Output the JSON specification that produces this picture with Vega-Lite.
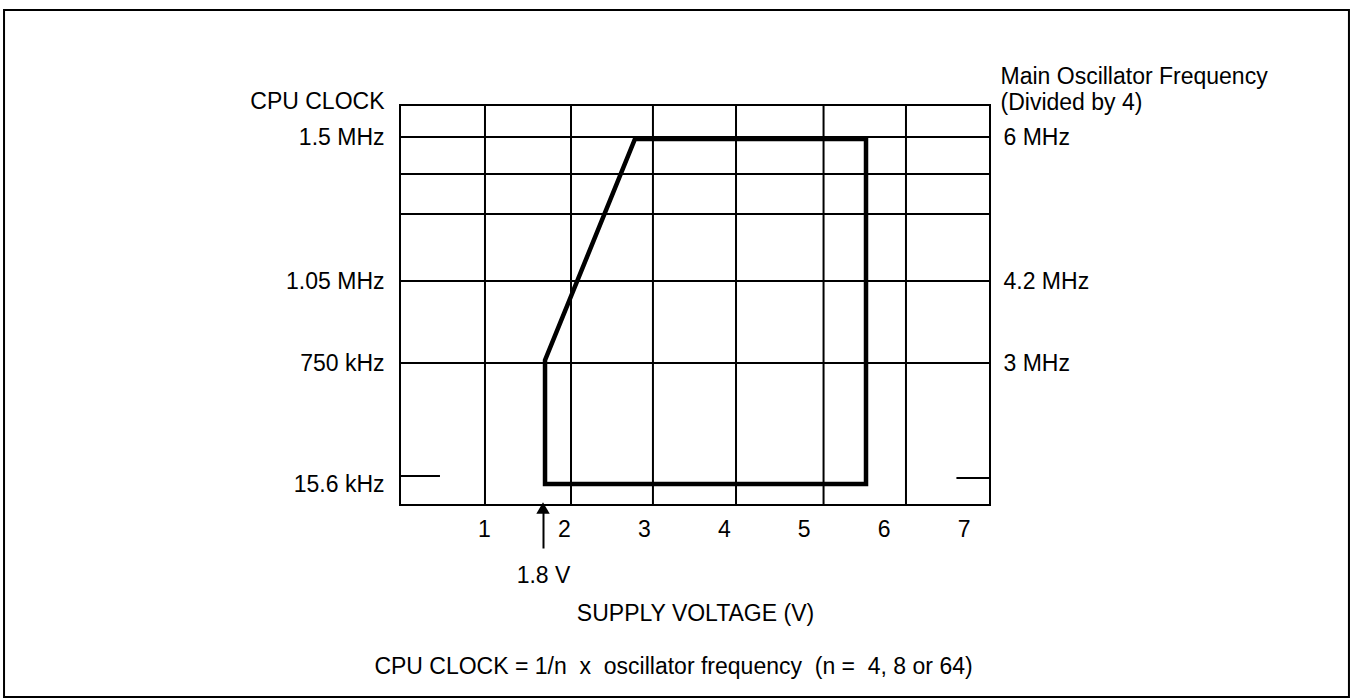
{
  "$schema": "https://vega.github.io/schema/vega-lite/v6.json",
  "autosize": {"type": "none"},
  "width": 590,
  "height": 400,
  "padding": {"left": 400, "top": 105, "right": 363, "bottom": 195},
  "background": "white",
  "config": {
    "view": {"stroke": "black", "strokeWidth": 2},
    "axis": {
      "labelFont": "Liberation Sans",
      "labelFontSize": 23,
      "labelColor": "black",
      "titleFont": "Liberation Sans",
      "titleFontSize": 23,
      "titleFontWeight": "normal",
      "titleColor": "black"
    }
  },
  "datasets": {
    "vgrid": [{"v": 1.013}, {"v": 2.089}, {"v": 3.114}, {"v": 4.153}, {"v": 5.248}, {"v": 6.279}],
    "hgrid": [{"f": 1.5}, {"f": 1.384}, {"f": 1.259}, {"f": 1.05}, {"f": 0.75}],
    "region": [
      {"order": 1, "v": 1.764, "f": 0.0156},
      {"order": 2, "v": 5.779, "f": 0.0156},
      {"order": 3, "v": 5.779, "f": 1.494},
      {"order": 4, "v": 2.889, "f": 1.494},
      {"order": 5, "v": 1.764, "f": 0.76},
      {"order": 6, "v": 1.764, "f": 0.0156}
    ],
    "stubs": [{"v": -0.05, "v2": 0.45, "f": 0.064}, {"v": 6.91, "v2": 7.33, "f": 0.052}],
    "arrow": [{"v": 1.739, "f": 0}],
    "frame": [{"v": -5.003, "v2": 11.82, "f": -0.1426, "f2": 1.8969}]
  },
  "resolve": {"axis": {"x": "independent", "y": "independent"}},
  "layer": [
    {
      "data": {"name": "vgrid"},
      "mark": {"type": "rule", "color": "black", "strokeWidth": 2},
      "encoding": {
        "x": {
          "field": "v", "type": "quantitative",
          "scale": {"domain": [-0.05, 7.33], "nice": false, "zero": false},
          "axis": {
            "orient": "bottom", "values": [1, 2, 3, 4, 5, 6, 7],
            "ticks": false, "domain": false, "grid": false,
            "labelPadding": 24, "labelBaseline": "middle", "labelFlush": false, "labelOverlap": false,
            "title": "SUPPLY VOLTAGE (V)", "titleX": 295, "titleY": 108, "titleBaseline": "middle", "titleAlign": "center"
          }
        }
      }
    },
    {
      "data": {"name": "hgrid"},
      "mark": {"type": "rule", "color": "black", "strokeWidth": 2},
      "encoding": {
        "y": {
          "field": "f", "type": "quantitative",
          "scale": {"domain": [0, 0.0156, 0.75, 1.05, 1.5, 1.6], "range": [400, 379, 258, 176, 32, 0], "nice": false, "zero": false},
          "axis": {
            "orient": "left", "values": [0.0156, 0.75, 1.05, 1.5],
            "labelExpr": "datum.value == 1.5 ? '1.5 MHz' : datum.value == 1.05 ? '1.05 MHz' : datum.value == 0.75 ? '750 kHz' : '15.6 kHz'",
            "ticks": false, "domain": false, "grid": false, "labelPadding": 16, "labelFlush": false, "labelOverlap": false,
            "title": "CPU CLOCK", "titleAngle": 0, "titleAlign": "right", "titleBaseline": "middle", "titleX": -16, "titleY": -4
          }
        }
      }
    },
    {
      "data": {"name": "region"},
      "mark": {"type": "line", "color": "black", "strokeWidth": 4.5, "strokeJoin": "miter", "strokeCap": "square"},
      "encoding": {
        "x": {"field": "v", "type": "quantitative", "scale": {"domain": [-0.05, 7.33], "nice": false, "zero": false}, "axis": null},
        "y": {
          "field": "f", "type": "quantitative",
          "scale": {"domain": [0, 0.0156, 0.75, 1.05, 1.5, 1.6], "range": [400, 379, 258, 176, 32, 0], "nice": false, "zero": false},
          "axis": {
            "orient": "right", "values": [0.75, 1.05, 1.5],
            "labelExpr": "datum.value == 1.5 ? '6 MHz' : datum.value == 1.05 ? '4.2 MHz' : '3 MHz'",
            "ticks": false, "domain": false, "grid": false, "labelPadding": 13, "labelAlign": "left", "labelFlush": false, "labelOverlap": false,
            "title": ["Main Oscillator Frequency", "(Divided by 4)"], "titleAngle": 0, "titleAlign": "left", "titleBaseline": "top",
            "titleX": 10, "titleY": -40, "titleLineHeight": 26
          }
        },
        "order": {"field": "order", "type": "quantitative"}
      }
    },
    {
      "data": {"name": "stubs"},
      "mark": {"type": "rule", "color": "black", "strokeWidth": 2},
      "encoding": {
        "x": {"field": "v", "type": "quantitative", "scale": {"domain": [-0.05, 7.33], "nice": false, "zero": false}, "axis": null},
        "x2": {"field": "v2"},
        "y": {"field": "f", "type": "quantitative", "scale": {"domain": [0, 0.0156, 0.75, 1.05, 1.5, 1.6], "range": [400, 379, 258, 176, 32, 0], "nice": false, "zero": false}, "axis": null}
      }
    },
    {
      "data": {"name": "arrow"},
      "mark": {"type": "point", "shape": "triangle-up", "filled": true, "color": "black", "opacity": 1, "size": 180, "yOffset": 3},
      "encoding": {
        "x": {
          "field": "v", "type": "quantitative",
          "scale": {"domain": [-0.05, 7.33], "nice": false, "zero": false},
          "axis": {
            "orient": "bottom", "values": [1.739], "labelExpr": "'1.8 V'",
            "ticks": true, "tickSize": 43, "tickWidth": 2, "tickColor": "black", "domain": false, "grid": false,
            "labelPadding": 27, "labelBaseline": "middle", "labelFlush": false,
            "title": "CPU CLOCK = 1/n\u00a0 x\u00a0 oscillator frequency\u00a0 (n =\u00a0 4, 8 or 64)", "titleX": 273, "titleY": 161, "titleBaseline": "middle", "titleAlign": "center"
          }
        },
        "y": {"field": "f", "type": "quantitative", "scale": {"domain": [0, 0.0156, 0.75, 1.05, 1.5, 1.6], "range": [400, 379, 258, 176, 32, 0], "nice": false, "zero": false}, "axis": null}
      }
    },
    {
      "data": {"name": "frame"},
      "mark": {"type": "rect", "filled": false, "stroke": "black", "strokeWidth": 2},
      "encoding": {
        "x": {"field": "v", "type": "quantitative", "scale": {"domain": [-0.05, 7.33], "nice": false, "zero": false}, "axis": null},
        "x2": {"field": "v2"},
        "y": {"field": "f", "type": "quantitative", "scale": {"domain": [0, 0.0156, 0.75, 1.05, 1.5, 1.6], "range": [400, 379, 258, 176, 32, 0], "nice": false, "zero": false}, "axis": null},
        "y2": {"field": "f2"}
      }
    }
  ]
}
